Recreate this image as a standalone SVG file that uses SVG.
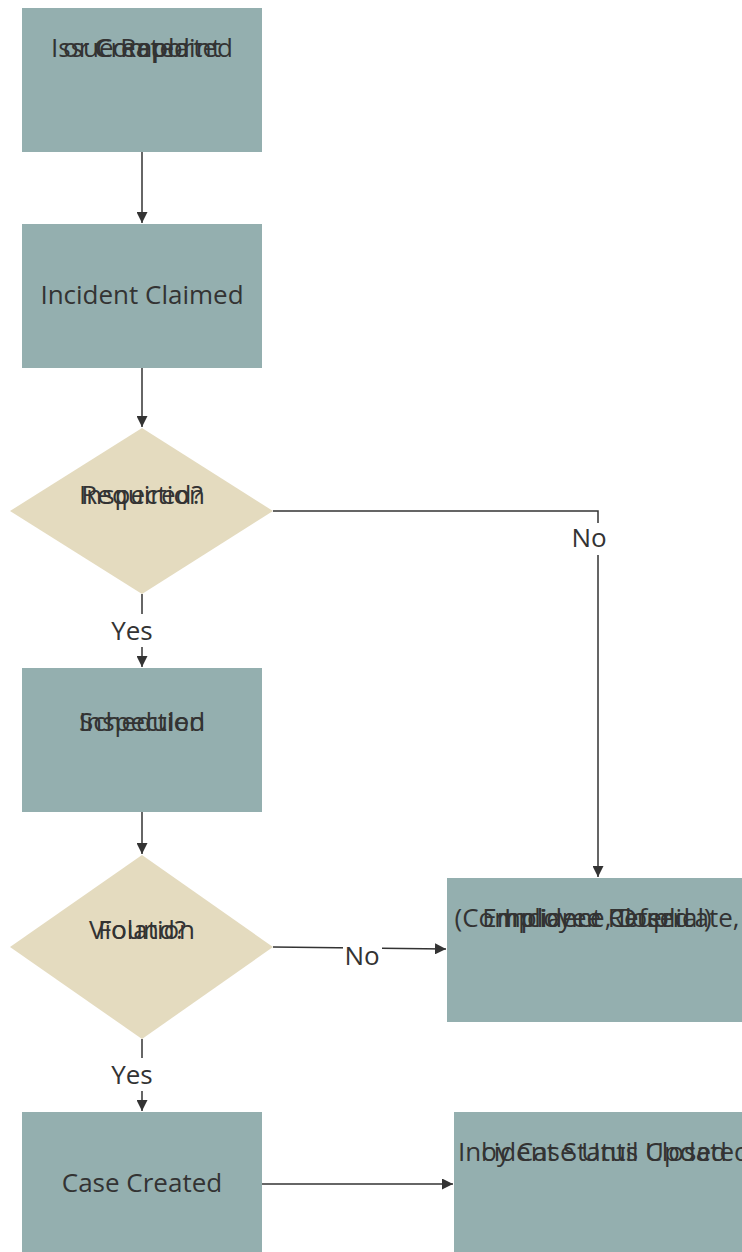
<svg xmlns="http://www.w3.org/2000/svg" width="742" height="1252" viewBox="0 0 742 1252">
<defs>
<marker id="arr" viewBox="0 0 10 10" refX="10" refY="5" markerWidth="11" markerHeight="11" markerUnits="userSpaceOnUse" orient="auto"><path d="M0,0 L10,5 L0,10 z" fill="#333333"/></marker>
<style>
.box{fill:#94AFAF}
.dia{fill:#E4DBBF}
.t{font-family:"Open Sans","Noto Sans",sans-serif;font-size:26px;fill:#333333;text-anchor:middle}
.c{fill:none;stroke:#333333;stroke-width:1.5}
.bg{fill:#ffffff}
</style>
</defs>
<rect width="742" height="1252" fill="#ffffff"/>
<g id="connectors">
<path class="c" d="M142,152 V223" marker-end="url(#arr)"/>
<path class="c" d="M142,368 V427" marker-end="url(#arr)"/>
<path class="c" d="M273,511 H598 V877" marker-end="url(#arr)"/>
<path class="c" d="M142,594 V667" marker-end="url(#arr)"/>
<path class="c" d="M142,812 V854" marker-end="url(#arr)"/>
<path class="c" d="M273,947 L446,949" marker-end="url(#arr)"/>
<path class="c" d="M142,1039 V1111" marker-end="url(#arr)"/>
<path class="c" d="M262,1184 H453" marker-end="url(#arr)"/>
<rect class="bg" x="569" y="523" width="42" height="32"/>
<text class="t" x="589" y="547">No</text>
<rect class="bg" x="109" y="614" width="46" height="33"/>
<text class="t" x="132" y="640">Yes</text>
<rect class="bg" x="343" y="944" width="39" height="26"/>
<text class="t" x="362" y="965">No</text>
<rect class="bg" x="109" y="1058" width="46" height="33"/>
<text class="t" x="132" y="1084">Yes</text>
</g>
<g id="issue-reported">
<rect class="box" x="22" y="8" width="240" height="144"/>
<text class="t" y="57"><tspan x="142">Issue Reported</tspan><tspan x="142">or Complaint</tspan><tspan x="142">Created</tspan></text>
</g>
<g id="incident-claimed">
<rect class="box" x="22" y="224" width="240" height="144"/>
<text class="t" x="142" y="304">Incident Claimed</text>
</g>
<g id="inspection-required">
<polygon class="dia" points="142,428 273,511 142,594 10,511"/>
<text class="t" y="504"><tspan x="142">Inspection</tspan><tspan x="142">Required?</tspan></text>
</g>
<g id="inspection-scheduled">
<rect class="box" x="22" y="668" width="240" height="144"/>
<text class="t" y="731"><tspan x="142">Inspection</tspan><tspan x="142">Scheduled</tspan></text>
</g>
<g id="violation-found">
<polygon class="dia" points="142,855 273,947 142,1039 10,947"/>
<text class="t" y="939"><tspan x="142">Violation</tspan><tspan x="142">Found?</tspan></text>
</g>
<g id="incident-closed">
<rect class="box" x="447" y="878" width="310" height="144"/>
<text class="t" y="927"><tspan x="597">Incident Closed</tspan><tspan x="597">(Compliance, Duplicate,</tspan><tspan x="597">Employee Referral)</tspan></text>
</g>
<g id="case-created">
<rect class="box" x="22" y="1112" width="240" height="144"/>
<text class="t" x="142" y="1192">Case Created</text>
</g>
<g id="incident-status-updated">
<rect class="box" x="454" y="1112" width="310" height="144"/>
<text class="t" y="1161"><tspan x="604">Incident Status Updated</tspan><tspan x="604">by Case Until Closed</tspan></text>
</g>
</svg>
